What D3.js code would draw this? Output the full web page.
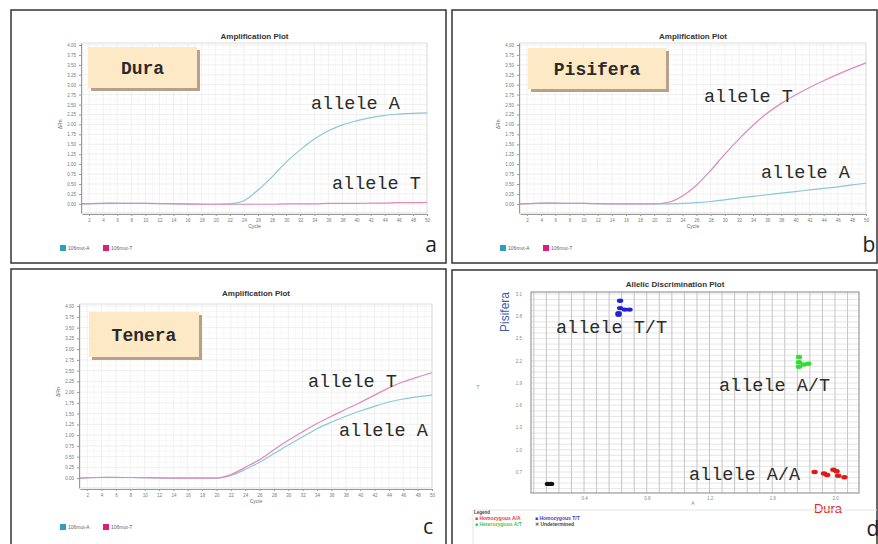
<!DOCTYPE html>
<html>
<head>
<meta charset="utf-8">
<script src="https://cdn.jsdelivr.net/npm/d3@7"></script>
<style>
body{margin:0;background:#fff;}
text{font-family:"Liberation Sans",Arial,sans-serif;}
</style>
</head>
<body>
<script>
// amplification curves, dRn per cycle
var cycles=[1,5,10,15,20,22,24,26,28,30,32,34,36,38,40,42,44,46,48,50];
var duraA=[0,0.02,0.01,0,-0.01,0,0.08,0.35,0.68,1.05,1.36,1.63,1.84,1.99,2.09,2.17,2.23,2.26,2.28,2.29];
var duraT=[0,0.01,0.01,0,-0.01,-0.01,-0.01,-0.01,-0.01,0,0,0,0.01,0.01,0.01,0.02,0.02,0.03,0.03,0.04];
var pisA=[0,0.02,0.01,0,0,0,0.01,0.03,0.06,0.1,0.15,0.19,0.23,0.27,0.31,0.35,0.39,0.43,0.48,0.52];
var pisT=[0,0.02,0.01,0,0,0.04,0.2,0.47,0.84,1.25,1.63,1.98,2.28,2.53,2.74,2.93,3.1,3.26,3.41,3.55];
var tenA=[0,0.02,0.01,0,0,0.06,0.2,0.37,0.57,0.77,0.96,1.15,1.3,1.44,1.56,1.67,1.77,1.84,1.89,1.93];
var tenT=[0,0.02,0.01,0,0,0.08,0.25,0.43,0.66,0.88,1.08,1.27,1.44,1.6,1.76,1.93,2.1,2.24,2.35,2.45];
var yTicks=[0,0.25,0.5,0.75,1,1.25,1.5,1.75,2,2.25,2.5,2.75,3,3.25,3.5,3.75,4];
var seriesNames=['106mut-A','106mut-T'];

// allelic discrimination points [A, T]
var homAA=[[1.87,0.70],[1.93,0.68],[1.95,0.66],[1.99,0.73],[2.01,0.71],[2.02,0.65],[2.06,0.63]];
var homTT=[[0.63,3.01],[0.63,2.91],[0.66,2.89],[0.69,2.89],[0.62,2.84],[0.62,2.82]];
var hetAT=[[1.77,2.25],[1.77,2.18],[1.80,2.15],[1.83,2.16],[1.77,2.12]];
var undet=[[0.17,0.54],[0.19,0.54]];
var discXTicks=[0.4,0.8,1.2,1.6,2.0];
var discYTicks=[0.7,1.0,1.3,1.6,1.9,2.2,2.5,2.8,3.1];

var teal='#8ac8d6', pink='#de8aba';

var svg=d3.select('body').append('svg').attr('width',878).attr('height',544);

// panel borders
[[11,10,435,253],[452,10,425,253],[11,269,435,290],[452,270,425,290]].forEach(function(b){
    svg.append('rect').attr('x',b[0]).attr('y',b[1]).attr('width',b[2]).attr('height',b[3])
    .attr('fill','#fff').attr('stroke','#333').attr('stroke-width',1.5);
});

function drawAmp(p){
    var g=svg.append('g');
    var x=d3.scaleLinear().domain([1,50]).range([p.x0,p.x1]);
    var y=d3.scaleLinear().domain([-0.23,4.05]).range([p.yb,p.yt]);
    // grid
    g.selectAll('.vg').data(d3.range(1,51)).enter().append('line')
    .attr('x1',d=>x(d)).attr('x2',d=>x(d)).attr('y1',p.yt).attr('y2',p.yb)
    .attr('stroke',d=>d%2==0?'#e8e8e8':'#f3f3f3').attr('stroke-width',0.6);
    g.selectAll('.hg').data(d3.range(0,4.01,0.125)).enter().append('line')
    .attr('x1',p.x0).attr('x2',p.x1).attr('y1',d=>y(d)).attr('y2',d=>y(d))
    .attr('stroke',(d,i)=>i%2==0?'#e6e6e6':'#f3f3f3').attr('stroke-width',0.6);
    g.append('rect').attr('x',p.x0).attr('y',p.yt).attr('width',p.x1-p.x0).attr('height',p.yb-p.yt)
    .attr('fill','none').attr('stroke','#ddd');
    var xAxis=d3.axisBottom(x).tickValues(d3.range(2,51,2)).tickSize(2).tickSizeOuter(0);
    var ax=g.append('g').attr('transform','translate(0,'+(p.yb+1)+')').call(xAxis);
    var yAxis=d3.axisLeft(y).tickValues(yTicks).tickFormat(d3.format('.2f')).tickSize(2).tickSizeOuter(0);
    var ay=g.append('g').attr('transform','translate('+(p.x0-1)+',0)').call(yAxis);
    [ax,ay].forEach(function(a){
        a.select('.domain').attr('stroke','#999');
        a.selectAll('.tick line').attr('stroke','#999');
        a.selectAll('text').attr('font-size',4.5).attr('fill','#777');
    });
    g.append('text').attr('x',(p.x0+p.x1)/2).attr('y',p.title).attr('text-anchor','middle')
    .attr('font-size',8).attr('font-weight','bold').attr('fill','#333').text('Amplification Plot');
    g.append('text').attr('x',(p.x0+p.x1)/2).attr('y',p.yb+15).attr('text-anchor','middle')
    .attr('font-size',5).attr('fill','#666').text('Cycle');
    g.append('text').attr('transform','translate('+(p.x0-20)+','+y(2)+') rotate(-90)').attr('text-anchor','middle')
    .attr('font-size',5).attr('fill','#666').text('ΔRn');
    var line=d3.line().x((d,i)=>x(cycles[i])).y(d=>y(d)).curve(d3.curveMonotoneX);
    g.append('path').datum(p.a).attr('d',line).attr('fill','none').attr('stroke',teal).attr('stroke-width',1.2);
    g.append('path').datum(p.t).attr('d',line).attr('fill','none').attr('stroke',pink).attr('stroke-width',1.2);
    // genotype label box
    g.append('rect').attr('x',p.box[0]+3).attr('y',p.box[1]+3).attr('width',p.box[2]).attr('height',p.box[3]).attr('fill','#b9a189');
    g.append('rect').attr('x',p.box[0]).attr('y',p.box[1]).attr('width',p.box[2]).attr('height',p.box[3]).attr('fill','#fde9c6');
    g.append('text').attr('x',p.box[0]+p.box[2]/2).attr('y',p.box[1]+p.box[3]/2+1).attr('text-anchor','middle')
    .attr('dominant-baseline','central').style('font-family','"Liberation Mono",monospace').attr('font-weight','bold')
    .attr('font-size',18).attr('fill','#2a2a2a').text(p.name);
    p.notes.forEach(function(n){
        g.append('text').attr('x',n[1]).attr('y',n[2]).attr('dominant-baseline','central')
        .style('font-family','"Liberation Mono",monospace').attr('font-size',18.5).attr('fill','#2a2a2a').text(n[0]);
    });
    // legend
    var lg=g.append('g').attr('transform','translate('+p.leg[0]+','+p.leg[1]+')');
    lg.append('rect').attr('x',0).attr('y',-3).attr('width',6).attr('height',6).attr('fill','#2aa0c4');
    lg.append('text').attr('x',8).attr('y',0).attr('dominant-baseline','central').attr('font-size',5).attr('fill','#666').text(seriesNames[0]);
    lg.append('rect').attr('x',43).attr('y',-3).attr('width',6).attr('height',6).attr('fill','#e01c7a');
    lg.append('text').attr('x',51).attr('y',0).attr('dominant-baseline','central').attr('font-size',5).attr('fill','#666').text(seriesNames[1]);
    g.append('text').attr('x',p.letter[0]).attr('y',p.letter[1]).attr('text-anchor','middle').attr('dominant-baseline','central')
    .style('font-family','"Open Sans",sans-serif').attr('font-size',21).attr('fill','#222').text(p.letter[2]);
}

drawAmp({x0:82,x1:427,yt:43,yb:213,title:39,a:duraA,t:duraT,box:[88,47,109,41],name:'Dura',
    notes:[['allele A',311,104],['allele T',332,184]],leg:[60,248],letter:[431,244,'a']});
drawAmp({x0:520,x1:866,yt:43,yb:213,title:39,a:pisA,t:pisT,box:[528,48,138,41],name:'Pisifera',
    notes:[['allele T',704,97],['allele A',761,173]],leg:[500,248],letter:[869,244,'b']});
drawAmp({x0:80,x1:432,yt:304,yb:488,title:296,a:tenA,t:tenT,box:[89,312,110,45],name:'Tenera',
    notes:[['allele T',308,382],['allele A',339,431]],leg:[60,527],letter:[428,526,'c']});

// allelic discrimination plot
(function(){
    var g=svg.append('g');
    var x0=531,x1=859,yt=292,yb=493;
    var x=d3.scaleLinear().domain([0.062,2.153]).range([x0,x1]);
    var y=d3.scaleLinear().domain([0.417,3.127]).range([yb,yt]);
    g.append('rect').attr('x',x0).attr('y',yt).attr('width',x1-x0).attr('height',yb-yt).attr('fill','#fff');
    g.selectAll('.vg').data(d3.range(0.08,2.16,0.08)).enter().append('line')
    .attr('x1',d=>x(d)).attr('x2',d=>x(d)).attr('y1',yt).attr('y2',yb).attr('stroke','#b4b4b4').attr('stroke-width',0.8);
    g.selectAll('.hg').data(d3.range(0.475,3.13,0.075)).enter().append('line')
    .attr('x1',x0).attr('x2',x1).attr('y1',d=>y(d)).attr('y2',d=>y(d)).attr('stroke','#d4d4d4').attr('stroke-width',0.6);
    g.append('rect').attr('x',x0).attr('y',yt).attr('width',x1-x0).attr('height',yb-yt).attr('fill','none').attr('stroke','#999').attr('stroke-width',1.2);
    var ax=g.append('g').attr('transform','translate(0,'+yb+')').call(d3.axisBottom(x).tickValues(discXTicks).tickFormat(d3.format('.1f')).tickSize(0).tickPadding(4));
    var ay=g.append('g').attr('transform','translate('+x0+',0)').call(d3.axisLeft(y).tickValues(discYTicks).tickFormat(d3.format('.1f')).tickSize(0).tickPadding(9));
    [ax,ay].forEach(function(a){
        a.select('.domain').remove();
        a.selectAll('text').attr('font-size',4.5).attr('fill','#888');
    });
    g.append('text').attr('x',675).attr('y',284).attr('text-anchor','middle').attr('dominant-baseline','central')
    .attr('font-size',8).attr('font-weight','bold').attr('fill','#333').text('Allelic Discrimination Plot');
    g.append('text').attr('x',693).attr('y',505).attr('text-anchor','middle').attr('font-size',5).attr('fill','#888').text('A');
    g.append('text').attr('x',478).attr('y',389).attr('text-anchor','middle').attr('font-size',5).attr('fill','#888').text('T');
    g.append('text').attr('transform','translate(505,312) rotate(-90)').attr('text-anchor','middle').attr('dominant-baseline','central')
    .attr('font-size',12).attr('fill','#3a5aa8').text('Pisifera');
    g.append('text').attr('x',828).attr('y',508).attr('text-anchor','middle').attr('dominant-baseline','central')
    .attr('font-size',13).attr('fill','#e02424').text('Dura');
    var groups=[[homAA,'#e01818'],[homTT,'#2222d0'],[hetAT,'#33dd33'],[undet,'#111']];
    groups.forEach(function(gr){
        g.selectAll(null).data(gr[0]).enter().append('ellipse')
        .attr('cx',d=>x(d[0])).attr('cy',d=>y(d[1])).attr('rx',3.2).attr('ry',2.2).attr('fill',gr[1]);
    });
    [['allele T/T',556,328],['allele A/T',719,386],['allele A/A',689,475]].forEach(function(n){
        g.append('text').attr('x',n[1]).attr('y',n[2]).attr('dominant-baseline','central')
        .style('font-family','"Liberation Mono",monospace').attr('font-size',18.5).attr('fill','#2a2a2a').text(n[0]);
    });
    // legend
    g.append('line').attr('x1',473).attr('x2',877).attr('y1',510).attr('y2',510).attr('stroke','#e4e4e4');
    g.append('line').attr('x1',473).attr('x2',473).attr('y1',510).attr('y2',544).attr('stroke','#e4e4e4');
    g.append('text').attr('x',474).attr('y',512).attr('dominant-baseline','central').attr('font-size',4.5).attr('font-weight','bold').attr('fill','#444').text('Legend');
    var legItems=[['■ Homozygous A/A','#e04040',475,518],['■ Homozygous T/T','#4040c0',535,518],
        ['■ Heterozygous A/T','#50c050',475,524],['✕ Undetermined','#444',535,524]];
    legItems.forEach(function(l){
        g.append('text').attr('x',l[2]).attr('y',l[3]).attr('dominant-baseline','central').attr('font-size',5).attr('font-weight','bold').attr('fill',l[1]).text(l[0]);
    });
    g.append('text').attr('x',873).attr('y',528).attr('text-anchor','middle').attr('dominant-baseline','central')
    .style('font-family','"Open Sans",sans-serif').attr('font-size',21).attr('fill','#222').text('d');
})();
</script>
</body>
</html>
